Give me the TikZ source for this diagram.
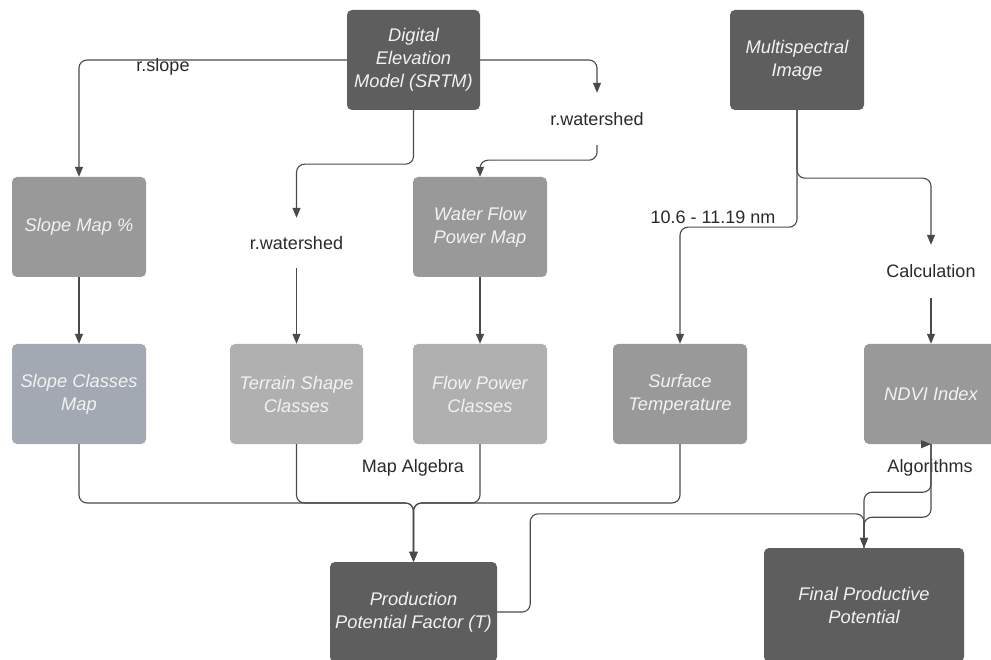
\documentclass[tikz,border=0pt]{standalone}
\usepackage{fontspec}
\setmainfont{Liberation Sans}
\usetikzlibrary{arrows.meta,calc}
\definecolor{darkbox}{HTML}{5E5E5E}
\definecolor{midbox}{HTML}{999999}
\definecolor{bluebox}{HTML}{A3A9B3}
\definecolor{lightbox}{HTML}{B0B0B0}
\definecolor{linec}{HTML}{4A4A4A}
\definecolor{textc}{HTML}{2A2A2A}
\definecolor{boxtext}{HTML}{F2F2F2}
\begin{document}
\begin{tikzpicture}[x=1pt,y=-1pt,
  box/.style={rounded corners=5pt, minimum width=134pt, minimum height=100pt, inner sep=0pt,
    text=boxtext, align=center, font=\fontsize{18.3}{23}\selectfont\itshape},
  lbl/.style={inner sep=0pt, minimum height=52pt, text=textc, font=\fontsize{18}{21}\selectfont},
  conn/.style={draw=linec, line width=1.1pt, rounded corners=8pt, -{Triangle[length=10pt,width=8pt]}},
  plain/.style={draw=linec, line width=1.1pt, rounded corners=8pt}]
\useasboundingbox (0,0) rectangle (991,660);
\fill[white] (0,0) rectangle (991,660);

% boxes
\node[box, fill=darkbox, minimum width=133pt] (dem) at (413.5,60) {Digital\\Elevation\\Model (SRTM)};
\node[box, fill=darkbox] (msi) at (797,60) {Multispectral\\Image};
\node[box, fill=midbox] (slope) at (79,227) {Slope Map \%};
\node[box, fill=midbox] (wfp) at (480,227) {Water Flow\\Power Map};
\node[box, fill=bluebox] (scm) at (79,394) {Slope Classes\\Map};
\node[box, fill=lightbox, minimum width=133pt] (tsc) at (296.5,394) {Terrain Shape\\Classes};
\node[box, fill=lightbox] (fpc) at (480,394) {Flow Power\\Classes};
\node[box, fill=midbox] (st) at (680,394) {Surface\\Temperature};
\node[box, fill=midbox] (ndvi) at (931,394) {NDVI Index};
\node[box, fill=darkbox, minimum width=167pt, minimum height=100pt] (ppf) at (413.5,612) {Production\\Potential Factor (T)};
\node[box, fill=darkbox, minimum width=200pt, minimum height=114pt] (fin) at (864,605) {Final Productive\\Potential};

% labels
\node[lbl, minimum height=0pt] (lslope) at (163,67) {r.slope};
\node[lbl] (lws1) at (597,119) {r.watershed};
\node[lbl, minimum height=50pt] (lws2) at (296.5,243) {r.watershed};
\node[lbl, minimum height=0pt] (lnm) at (713,217) {10.6 - 11.19 nm};
\node[lbl, minimum height=53pt] (lcalc) at (931,271.5) {Calculation};
\node[lbl, minimum height=0pt] (lma) at (413,468) {Map Algebra};
\node[lbl, minimum height=0pt] (lalg) at (930,468) {Algorithms};

% connectors from DEM
\draw[conn] (dem.west) -| (slope.north);
\draw[conn] (dem.east) -| (lws1.north);
\draw[conn] (lws1.south) -- ++(0,15) -| (wfp.north);
\draw[conn] (dem.south) -- ++(0,54) -| (lws2.north);
\draw[conn] (lws2.south) -- (tsc.north);
\draw[conn] (slope.south) -- (scm.north);
\draw[conn] (wfp.south) -- (fpc.north);

% connectors from multispectral image
\draw[conn] (msi.south) -- ++(0,117) -| (st.north);
\draw[conn] (msi.south) -- ++(0,68) -| (lcalc.north);
\draw[conn] (lcalc.south) -- (ndvi.north);

% map algebra
\coordinate (ma) at (413.5,503);
\draw[conn] (scm.south) |- (ma) -- (ppf.north);
\draw[conn] (tsc.south) |- (ma) -- (ppf.north);
\draw[conn] (fpc.south) |- (ma) -- (ppf.north);
\draw[conn] (st.south) |- (ma) -- (ppf.north);

% to final productive potential
\draw[conn] (ppf.east) -- ++(33,0) |- ($(fin.north)+(0,-34)$) -- (fin.north);
\draw[conn] (ndvi.south) -- ++(0,73) -| (fin.north);
\draw[plain] (fin.north) |- ($(ndvi.south)+(0,48)$) -- (ndvi.south);
\coordinate (tipstart) at ($(ndvi.south)+(-9,0)$);
\draw[conn] (tipstart) -- (ndvi.south);
\end{tikzpicture}
\end{document}
